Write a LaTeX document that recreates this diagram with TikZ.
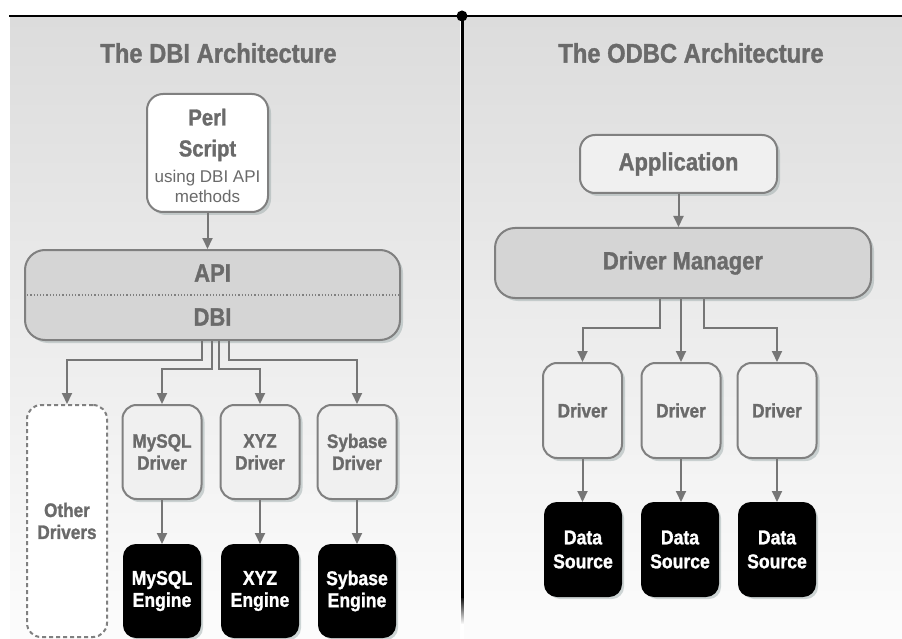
\documentclass[tikz,border=0pt]{standalone}
\usepackage{fontspec}
\setmainfont{Liberation Sans}
\newfontfamily\condf{Liberation Sans}[FakeStretch=0.88, FakeBold=1.2]
\usetikzlibrary{arrows.meta,shadows,fadings}

\definecolor{inkgray}{HTML}{6A6A6A}
\definecolor{edgegray}{HTML}{808080}
\definecolor{wiregray}{HTML}{767676}
\definecolor{paneltop}{HTML}{DCDCDC}
\definecolor{panelbot}{HTML}{FCFCFC}
\definecolor{lightfill}{HTML}{F0F0F0}
\definecolor{midfill}{HTML}{D5D5D5}
\definecolor{shadowtint}{HTML}{8A9C9C}

\newcommand\setfs[2]{\fontsize{#1}{#2}\selectfont}

\tikzset{
  boxbase/.style={draw=edgegray, line width=2pt, inner sep=0pt, align=center,
    text=inkgray, font=\condf\bfseries,
    drop shadow={shadow xshift=3pt, shadow yshift=-3pt, fill=shadowtint, opacity=0.4}},
  perlbox/.style={boxbase, fill=white, rounded corners=16pt,
    minimum width=121pt, minimum height=118pt, font=\condf\bfseries\setfs{23}{31}},
  layerbox/.style={boxbase, fill=midfill, rounded corners=20pt,
    minimum width=376pt, font=\condf\bfseries\setfs{25}{44}},
  appbox/.style={boxbase, fill=lightfill, rounded corners=15pt,
    minimum width=197pt, minimum height=58pt, font=\condf\bfseries\setfs{25}{30}},
  drvbox/.style={boxbase, fill=lightfill, rounded corners=14pt,
    minimum width=79pt, font=\condf\bfseries\setfs{19.5}{22}},
  otherbox/.style={draw=edgegray, line width=2pt, dash pattern=on 4pt off 3pt,
    fill=white, rounded corners=14pt, inner sep=0pt, align=center, text=inkgray,
    minimum width=80pt, minimum height=232pt, font=\condf\bfseries\setfs{19.5}{22}},
  enginebox/.style={boxbase, draw=black, fill=black, text=white, rounded corners=12pt,
    minimum width=76pt, font=\condf\bfseries\setfs{20}{22}},
  sourcebox/.style={enginebox, font=\condf\bfseries\setfs{20}{24}, minimum height=93pt},
  titlenode/.style={text=inkgray, inner sep=0pt, font=\condf\bfseries\setfs{27}{30}},
  wire/.style={draw=wiregray, line width=2pt, -{Triangle[width=10pt,length=11pt]}},
}

\begin{document}
\begin{tikzpicture}[x=1pt, y=-1pt]
\useasboundingbox (0,0) rectangle (902,639);

% shaded panels and the dividing rules
\shade[top color=paneltop, bottom color=panelbot] (10,17) rectangle (460,639);
\shade[top color=paneltop, bottom color=panelbot] (464,17) rectangle (902,639);
\draw[line width=2.5pt] (9,16) -- (902,16);
\draw[line width=3pt] (462,16) -- (462,598);
\fill[black, path fading=south] (460.5,596) rectangle (463.5,624);
\fill (462,16) circle (5.5pt);

% titles
\node[titlenode] (dbititle) at (218.5,53) {The DBI Architecture};
\node[titlenode] (odbctitle) at (691,53) {The ODBC Architecture};

% DBI side
\node[perlbox] (perl) at (207.5,153)
  {\rule{0pt}{22pt}Perl\\Script\\[-5pt]{\normalfont\setfs{17}{20}using DBI API}\\[-11pt]{\normalfont\setfs{17}{20}methods}};
\node[layerbox, minimum width=375pt, minimum height=90pt] (api) at (212.5,295) {API\\DBI};
\draw[edgegray, line width=1.2pt, dotted] (api.west) -- (api.east);

\node[otherbox] (other) at (67,521) {Other\\Drivers};
\node[drvbox, minimum height=94pt] (mysqld) at (162,452) {MySQL\\Driver};
\node[drvbox, minimum height=94pt] (xyzd) at (260,452) {XYZ\\Driver};
\node[drvbox, minimum height=94pt] (sybd) at (357,452) {Sybase\\Driver};

\node[enginebox, minimum height=92pt] (mysqle) at (162,591) {MySQL\\Engine};
\node[enginebox, minimum height=92pt] (xyze) at (260,591) {XYZ\\Engine};
\node[enginebox, minimum height=92pt] (sybe) at (357,591) {Sybase\\Engine};

\draw[wire] (perl.south) -- (perl.south |- api.north);
\draw[wire] ([xshift=-10.5pt]api.south) -- ++(0,19) -| (other.north);
\draw[wire] ([xshift=-0.5pt]api.south) -- ++(0,28) -| (mysqld.north);
\draw[wire] ([xshift=6pt]api.south) -- ++(0,28) -| (xyzd.north);
\draw[wire] ([xshift=16pt]api.south) -- ++(0,19) -| (sybd.north);
\draw[wire] (mysqld.south) -- (mysqld.south |- mysqle.north);
\draw[wire] (xyzd.south) -- (xyzd.south |- xyze.north);
\draw[wire] (sybd.south) -- (sybd.south |- sybe.north);

% ODBC side
\node[appbox] (app) at (678.5,164) {Application};
\node[layerbox, minimum height=70pt] (dm) at (683,263) {Driver Manager};

\node[drvbox, minimum height=95pt] (drv1) at (582.5,410.5) {Driver};
\node[drvbox, minimum height=95pt] (drv2) at (681,410.5) {Driver};
\node[drvbox, minimum height=95pt] (drv3) at (777,410.5) {Driver};

\node[sourcebox] (src1) at (583,549.5) {Data\\Source};
\node[sourcebox] (src2) at (680,549.5) {Data\\Source};
\node[sourcebox] (src3) at (777,549.5) {Data\\Source};

\draw[wire] (app.south) -- (app.south |- dm.north);
\draw[wire] ([xshift=-23pt]dm.south) -- ++(0,29) -| (drv1.north);
\draw[wire] (drv2.north |- dm.south) -- (drv2.north);
\draw[wire] ([xshift=21pt]dm.south) -- ++(0,29) -| (drv3.north);
\draw[wire] (drv1.south) -- (drv1.south |- src1.north);
\draw[wire] (drv2.south) -- (drv2.south |- src2.north);
\draw[wire] (drv3.south) -- (drv3.south |- src3.north);
\end{tikzpicture}
\end{document}
